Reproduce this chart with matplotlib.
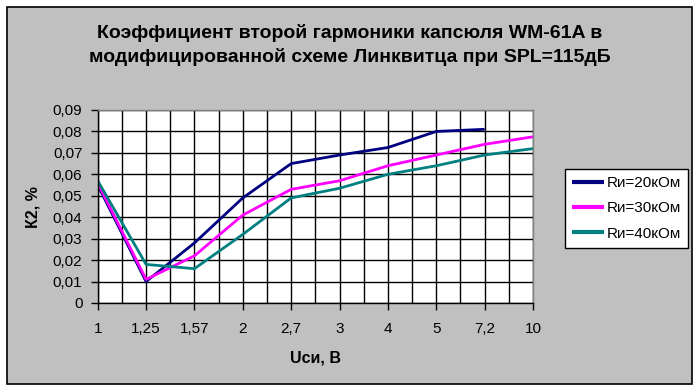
import numpy as np
import matplotlib
matplotlib.use("Agg")
import matplotlib.pyplot as plt
from matplotlib.patches import Rectangle
from matplotlib.ticker import FuncFormatter, MultipleLocator

plt.rcParams['font.family'] = ['Liberation Sans', 'DejaVu Sans']

categories = ["1", "1,25", "1,57", "2", "2,7", "3", "4", "5", "7,2", "10"]
ri20 = [0.055, 0.010, 0.028, 0.049, 0.065, 0.069, 0.0725, 0.080, 0.081, np.nan]
ri30 = [0.056, 0.011, 0.022, 0.041, 0.053, 0.057, 0.064, 0.069, 0.074, 0.0775]
ri40 = [0.057, 0.018, 0.016, 0.032, 0.049, 0.0535, 0.060, 0.064, 0.069, 0.072]
labels = ["Rи=20кОм", "Rи=30кОм", "Rи=40кОм"]
colors = ["#000080", "#ff00ff", "#008080"]
title = "Коэффициент второй гармоники капсюля WM-61A в\nмодифицированной схеме Линквитца при SPL=115дБ"

W, H = 700, 392
fig = plt.figure(figsize=(W / 100, H / 100), dpi=100, facecolor="white")

# outer chart area frame
fig.patches.append(Rectangle((7 / W, 1 - 384 / H), (692 - 7) / W, (384 - 7) / H,
                             transform=fig.transFigure, facecolor="#c0c0c0",
                             edgecolor="black", linewidth=1.2, zorder=-10))

ax = fig.add_axes([97.7 / W, 1 - 303 / H, (533 - 97.7) / W, (303 - 110) / H])
ax.set_facecolor("white")

x = np.arange(len(categories))
for vals, lab, col in zip([ri20, ri30, ri40], labels, colors):
    ax.plot(x, vals, color=col, linewidth=2.0, label=lab, solid_capstyle="butt")

ax.set_xlim(0, len(categories) - 1)
ax.set_ylim(0, 0.09)
ax.set_xticks(x)
ax.set_xticklabels(categories)
ax.set_xticks(np.arange(0, len(categories) - 0.5, 0.5), minor=True)
ax.yaxis.set_major_locator(MultipleLocator(0.01))
ax.yaxis.set_major_formatter(FuncFormatter(
    lambda v, p: "0" if abs(v) < 1e-9 else ("%.2f" % v).replace(".", ",")))

ax.grid(True, which="major", color="black", linewidth=1.0)
ax.grid(True, which="minor", axis="x", color="black", linewidth=1.0)
ax.set_axisbelow(True)
ax.tick_params(axis="both", which="major", direction="out", length=5,
               width=1, color="black", labelsize=11, pad=6)
ax.tick_params(axis="x", which="minor", length=0)
ax.tick_params(axis="x", pad=9)

for s in ["left", "bottom"]:
    ax.spines[s].set_color("black")
    ax.spines[s].set_linewidth(1.0)
for s in ["top", "right"]:
    ax.spines[s].set_color("#808080")
    ax.spines[s].set_linewidth(1.0)

fig.text(350 / W, 1 - 45 / H, title, ha="center", va="center",
         fontsize=14, fontweight="bold", linespacing=1.4)
fig.text(33 / W, 1 - 207 / H, "К2, %", ha="center", va="center",
         rotation=90, fontsize=11.5, fontweight="bold")
fig.text(315 / W, 1 - 358 / H, "Uси, В", ha="center", va="center",
         fontsize=11.5, fontweight="bold")

leg = ax.legend(loc="upper left", bbox_to_anchor=(565 / W, 1 - 169 / H),
                bbox_transform=fig.transFigure, fontsize=11, frameon=True,
                fancybox=False, edgecolor="black", framealpha=1,
                handlelength=2.1, handletextpad=0.2, labelspacing=0.75,
                borderpad=0.45, borderaxespad=0)
leg.get_frame().set_linewidth(1.0)
for line in leg.get_lines():
    line.set_linewidth(3)

fig.savefig("out.png", dpi=100, facecolor="white")
